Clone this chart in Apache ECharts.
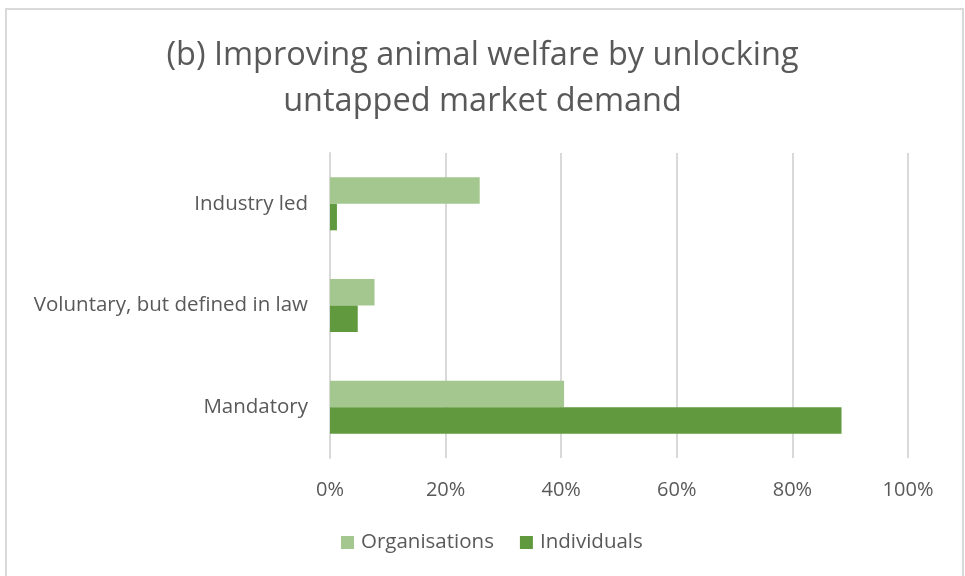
<!DOCTYPE html>
<html>
<head>
<meta charset="utf-8">
<script src="https://cdn.jsdelivr.net/npm/echarts@6/dist/echarts.min.js"></script>
<style>
  html, body { margin: 0; padding: 0; background: #ffffff; }
  #chart { width: 965px; height: 576px; }
</style>
</head>
<body>
<div id="chart"></div>
<script>
// Categories listed bottom-to-top along the vertical category axis
const categories = ['Mandatory', 'Voluntary, but defined in law', 'Industry led'];
const seriesNames = ['Organisations', 'Individuals'];
const organisations = [40.5, 7.7, 25.9];
const individuals = [88.5, 4.8, 1.2];
const tickValues = [0, 20, 40, 60, 80, 100];

const FONT = '"Open Sans", "Liberation Sans", sans-serif';
const TEXT = '#595959';

const chart = echarts.init(document.getElementById('chart'), null, { renderer: 'canvas' });

chart.setOption({
  backgroundColor: '#ffffff',
  animation: false,
  title: {
    text: '(b) Improving animal welfare by unlocking\nuntapped market demand',
    left: 'center',
    top: 28,
    textStyle: {
      fontFamily: FONT,
      fontWeight: 'normal',
      fontSize: 32.5,
      lineHeight: 46,
      color: TEXT
    }
  },
  graphic: [{
    type: 'rect',
    shape: { x: 6, y: 9, width: 957, height: 580 },
    style: { fill: 'none', stroke: '#d9d9d9', lineWidth: 2 },
    silent: true
  }],
  legend: {
    bottom: 18,
    left: 336,
    itemWidth: 13,
    itemHeight: 13,
    itemGap: 26,
    icon: 'rect',
    textStyle: { fontFamily: FONT, fontSize: 20.5, color: TEXT, padding: [0, 0, 0, 2] },
    data: seriesNames
  },
  grid: { left: 330, right: 57, top: 153, bottom: 118 },
  xAxis: {
    type: 'value',
    min: tickValues[0],
    max: tickValues[tickValues.length - 1],
    interval: 20,
    axisLine: { show: false },
    axisTick: { show: false },
    splitLine: { lineStyle: { color: '#d9d9d9', width: 2 } },
    axisLabel: {
      margin: 22,
      fontFamily: FONT,
      fontSize: 20,
      color: TEXT,
      formatter: v => v + '%'
    }
  },
  yAxis: {
    type: 'category',
    data: categories,
    axisLine: { show: true, lineStyle: { color: '#d9d9d9', width: 2 } },
    axisTick: { show: false },
    axisLabel: {
      margin: 22,
      fontFamily: FONT,
      fontSize: 20.5,
      color: TEXT
    }
  },
  series: [
    {
      name: seriesNames[0],
      type: 'bar',
      data: organisations,
      barWidth: 26.5,
      barGap: '0%',
      itemStyle: { color: '#a4c78f' }
    },
    {
      name: seriesNames[1],
      type: 'bar',
      data: individuals,
      barWidth: 26.5,
      barGap: '0%',
      itemStyle: { color: '#619a3e' }
    }
  ]
});
</script>
</body>
</html>
